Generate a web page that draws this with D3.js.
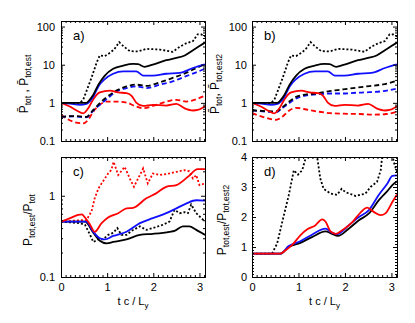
<!DOCTYPE html>
<html>
<head>
<meta charset="utf-8">
<script src="https://cdn.jsdelivr.net/npm/d3@7"></script>
<style>
  body { margin: 0; background: #fff; }
  text { font-family: "Liberation Sans", Arial, sans-serif; fill: #000; }
  .axis path, .axis line { stroke: #000; stroke-width: 1; }
</style>
</head>
<body>
<div id="chart"></div>
<script>
// time axis (t c / L_y) and tick values
var xTicks = [0, 1, 2, 3];
var logTicksAB = [0.1, 1, 10, 100];
var logTicksC = [0.1, 1];
var linTicksD = [0, 1, 2, 3, 4];

// panels a) and b): solid curves (same in both)
var totBlack = [[0,1],[0.3,1],[0.55,1.0],[0.62,1.2],[0.7,1.63],[0.81,3.0],[0.95,5.2],[1.13,7.8],[1.35,9.5],[1.56,10.5],[1.67,10.3],[1.81,8.8],[1.99,10.1],[2.28,13.1],[2.5,15.1],[2.68,17.5],[2.86,24],[3.0,30.8],[3.12,38]];
var totBlue = [[0,1],[0.2,0.95],[0.41,0.89],[0.55,0.94],[0.7,1.47],[0.81,2.7],[0.95,4.2],[1.13,5.8],[1.35,6.7],[1.63,6.7],[1.78,5.2],[1.99,5.2],[2.28,5.8],[2.57,6.1],[2.86,8.2],[3.12,10.2]];
var totRed = [[0,1],[0.19,0.8],[0.34,0.63],[0.48,0.53],[0.59,0.72],[0.7,1.25],[0.84,1.88],[1.06,2.1],[1.24,1.88],[1.42,1.8],[1.53,1.53],[1.63,1.02],[1.78,0.83],[1.99,0.89],[2.28,0.85],[2.5,0.94],[2.68,0.72],[2.86,0.63],[2.96,0.65],[3.12,0.82]];
var totBlackDot = [[0,1],[0.41,1],[0.48,1.2],[0.55,2.0],[0.66,4.5],[0.77,11.2],[0.84,17.5],[0.95,16.8],[1.06,20.5],[1.15,25],[1.26,39],[1.35,30.8],[1.49,22.7],[1.67,22.3],[1.85,26],[2.14,25],[2.42,21.8],[2.57,29.5],[2.71,36.3],[2.86,41.7],[2.96,62.7],[3.04,62],[3.12,55]];

// panel a): estimate (dashed)
var estBlackA = [[0,0.43],[0.27,0.45],[0.55,0.43],[0.7,0.65],[0.84,0.98],[0.99,1.41],[1.2,2.1],[1.42,2.7],[1.63,3.0],[1.85,2.8],[2.14,3.45],[2.42,4.5],[2.71,6.1],[2.93,8.2],[3.12,10.3]];
var estBlueA = [[0,0.43],[0.27,0.44],[0.55,0.42],[0.7,0.63],[0.84,0.89],[0.99,1.25],[1.2,2.0],[1.42,2.44],[1.63,2.7],[1.85,2.44],[2.14,3.0],[2.42,3.66],[2.71,5.0],[2.93,6.3],[3.12,7.9]];
var estRedA = [[0,0.48],[0.27,0.32],[0.48,0.29],[0.59,0.36],[0.7,0.59],[0.84,0.89],[0.99,1.08],[1.2,1.08],[1.42,1.02],[1.6,0.83],[1.78,0.72],[1.99,0.83],[2.28,1.08],[2.5,1.2],[2.71,1.08],[2.89,1.2],[3.12,1.55]];

// panel b): estimate 2 (dashed)
var estBlackB = [[0,0.64],[0.52,0.6],[0.66,0.78],[0.81,1.1],[0.95,1.44],[1.17,1.66],[1.38,1.76],[1.67,2.03],[1.96,2.25],[2.24,2.5],[2.53,2.76],[2.82,3.05],[3.12,3.8]];
var estBlueB = [[0,0.64],[0.52,0.57],[0.66,0.74],[0.81,1.0],[0.95,1.3],[1.17,1.56],[1.38,1.66],[1.67,1.76],[1.96,1.76],[2.24,1.84],[2.53,1.9],[2.82,2.03],[3.12,2.36]];
var estRedB = [[0,0.54],[0.23,0.43],[0.52,0.36],[0.66,0.44],[0.81,0.64],[0.95,0.74],[1.17,0.67],[1.38,0.6],[1.67,0.54],[1.96,0.52],[2.32,0.51],[2.6,0.49],[2.89,0.51],[3.12,0.58]];

// panel c): P_tot,est / P_tot
var ratioRedC = [[0,0.48],[0.2,0.53],[0.37,0.58],[0.45,0.59],[0.52,0.54],[0.63,0.44],[0.73,0.36],[0.88,0.46],[1.02,0.54],[1.24,0.61],[1.42,0.7],[1.56,0.71],[1.85,0.93],[2.06,1.07],[2.28,1.29],[2.5,1.35],[2.75,1.71],[2.96,2.13],[3.12,2.13]];
var ratioRedDotC = [[0,0.48],[0.41,0.5],[0.55,0.5],[0.66,0.64],[0.73,0.93],[0.81,1.23],[0.88,1.42],[0.95,1.63],[1.02,1.88],[1.09,2.07],[1.14,2.62],[1.24,1.8],[1.38,2.27],[1.49,1.63],[1.58,1.29],[1.67,1.63],[1.78,2.17],[1.88,1.42],[1.99,1.88],[2.14,1.8],[2.35,1.88],[2.5,1.97],[2.68,2.07],[2.78,2.0],[2.86,1.63],[2.93,1.8],[3.0,1.35],[3.12,1.42]];
var ratioBlueC = [[0,0.48],[0.55,0.48],[0.7,0.36],[0.84,0.3],[0.95,0.29],[1.13,0.32],[1.42,0.36],[1.71,0.46],[1.99,0.53],[2.28,0.61],[2.5,0.7],[2.71,0.8],[2.93,0.88],[3.12,0.87]];
var ratioBlackC = [[0,0.48],[0.52,0.48],[0.7,0.35],[0.84,0.28],[0.99,0.26],[1.13,0.27],[1.42,0.29],[1.71,0.33],[1.99,0.34],[2.35,0.36],[2.46,0.37],[2.64,0.42],[2.78,0.42],[2.93,0.38],[3.12,0.33]];
var ratioBlackDotC = [[0,0.48],[0.41,0.46],[0.52,0.44],[0.63,0.33],[0.7,0.27],[0.81,0.29],[0.91,0.29],[1.02,0.33],[1.13,0.35],[1.22,0.4],[1.31,0.33],[1.42,0.33],[1.53,0.37],[1.71,0.42],[1.85,0.38],[1.99,0.4],[2.21,0.44],[2.35,0.48],[2.46,0.67],[2.57,0.61],[2.68,0.63],[2.75,0.61],[2.82,0.78],[2.93,0.61],[3.12,0.48]];

// panel d): P_tot,est / P_tot,est2
var ratioRedD = [[0,0.78],[0.61,0.78],[0.72,0.89],[0.86,1.06],[1.04,1.39],[1.19,1.59],[1.36,1.72],[1.51,1.92],[1.58,1.85],[1.69,1.52],[1.8,1.44],[1.94,1.56],[2.16,1.83],[2.33,2.14],[2.48,2.31],[2.62,2.17],[2.77,2.06],[2.87,2.12],[3.02,2.5],[3.12,2.75]];
var ratioBlueD = [[0,0.78],[0.61,0.78],[0.79,1.03],[1.04,1.19],[1.29,1.41],[1.58,1.61],[1.72,1.48],[1.83,1.43],[2.08,1.72],[2.3,2.0],[2.51,2.22],[2.73,2.74],[2.91,3.11],[3.02,3.37],[3.12,3.39]];
var ratioBlackD = [[0,0.78],[0.61,0.78],[0.79,1.0],[1.04,1.14],[1.29,1.33],[1.58,1.52],[1.72,1.44],[1.85,1.37],[2.08,1.61],[2.3,1.89],[2.51,2.11],[2.73,2.56],[2.91,2.86],[3.02,3.06],[3.12,3.19]];
var ratioBlackDotD = [[0,0.78],[0.43,0.78],[0.54,1.11],[0.65,1.83],[0.79,2.72],[0.9,3.56],[0.99,3.41],[1.08,3.56],[1.15,3.94],[1.22,4.4],[1.3,4.6],[1.36,4.3],[1.4,4.02],[1.47,3.28],[1.54,2.94],[1.69,2.78],[1.83,2.74],[1.93,2.94],[2.01,2.83],[2.23,2.7],[2.44,2.78],[2.55,3.0],[2.69,3.17],[2.77,3.56],[2.8,4.0],[2.9,4.5],[3.0,4.3],[3.05,3.83],[3.12,3.5]];

var svgWidth = 415, svgHeight = 323;
var svg = d3.select("#chart").append("svg")
  .attr("width", svgWidth)
  .attr("height", svgHeight);

var RED = "#ff0000", BLUE = "#1010ff", BLACK = "#000";
var DASH = "5,3", DOT = "2,2";

// panel boxes
var panels = [
  {id: "a", x: 61, y: 21, w: 144, h: 120, log: true, dom: [0.1, 140], ticks: logTicksAB, xlab: false,
   series: [[totBlackDot, BLACK, DOT], [estRedA, RED, DASH], [estBlueA, BLUE, DASH], [estBlackA, BLACK, DASH],
            [totRed, RED, null], [totBlue, BLUE, null], [totBlack, BLACK, null]]},
  {id: "b", x: 252, y: 21, w: 145, h: 120, log: true, dom: [0.1, 140], ticks: logTicksAB, xlab: false,
   series: [[totBlackDot, BLACK, DOT], [estRedB, RED, DASH], [estBlueB, BLUE, DASH], [estBlackB, BLACK, DASH],
            [totRed, RED, null], [totBlue, BLUE, null], [totBlack, BLACK, null]]},
  {id: "c", x: 61, y: 157, w: 144, h: 120, log: true, dom: [0.1, 3], ticks: logTicksC, xlab: true,
   series: [[ratioRedDotC, RED, DOT], [ratioBlackDotC, BLACK, DOT], [ratioBlackC, BLACK, null],
            [ratioBlueC, BLUE, null], [ratioRedC, RED, null]]},
  {id: "d", x: 252, y: 157, w: 145, h: 120, log: false, dom: [0, 4], ticks: linTicksD, xlab: true,
   series: [[ratioBlackDotD, BLACK, DOT], [ratioBlackD, BLACK, null], [ratioBlueD, BLUE, null], [ratioRedD, RED, null]]}
];

function minorLog(dom) {
  var out = [];
  for (var e = -2; e <= 3; e++) {
    for (var k = 2; k <= 9; k++) {
      var v = k * Math.pow(10, e);
      if (v > dom[0] && v < dom[1]) out.push(v);
    }
  }
  return out;
}

panels.forEach(function(p) {
  var g = svg.append("g").attr("transform", `translate(${p.x}, ${p.y})`);

  var x = d3.scaleLinear().domain([0, 3.12]).range([0, p.w]);
  var y = (p.log ? d3.scaleLog() : d3.scaleLinear()).domain(p.dom).range([p.h, 0]);

  var xMinor = d3.range(0, 3.12, 0.1).filter(function(v) { return Math.abs(v - Math.round(v)) > 0.01; });
  var yMinor = p.log ? minorLog(p.dom) : d3.range(0, 4, 0.1).filter(function(v) { return Math.abs(v - Math.round(v)) > 0.01; });

  // clip for the curves
  g.append("clipPath").attr("id", "clip-" + p.id)
    .append("rect").attr("width", p.w).attr("height", p.h);

  var line = d3.line()
    .x(function(d) { return x(d[0]); })
    .y(function(d) { return y(d[1]); });

  var curves = g.append("g").attr("clip-path", `url(#clip-${p.id})`);
  p.series.forEach(function(s) {
    line.curve(s[2] === DOT ? d3.curveLinear : d3.curveMonotoneX);
    curves.append("path")
      .attr("d", line(s[0]))
      .attr("fill", "none")
      .attr("stroke", s[1])
      .attr("stroke-width", 1.8)
      .attr("stroke-dasharray", s[2]);
  });

  // axes, IDL style ticks pointing inward on all sides
  var fmtY = function(d) { return d < 1 && p.log ? "0.1" : d3.format("d")(d); };

  g.append("g").attr("class", "axis")
    .attr("transform", `translate(0, ${p.h})`)
    .call(d3.axisBottom(x).tickValues(xTicks).tickSize(-4).tickSizeOuter(0).tickPadding(6)
      .tickFormat(p.xlab ? d3.format("d") : ""));
  g.append("g").attr("class", "axis")
    .attr("transform", `translate(0, ${p.h})`)
    .call(d3.axisBottom(x).tickValues(xMinor).tickSize(-2).tickSizeOuter(0).tickFormat(""));
  g.append("g").attr("class", "axis")
    .call(d3.axisTop(x).tickValues(xTicks).tickSize(-4).tickSizeOuter(0).tickFormat(""));
  g.append("g").attr("class", "axis")
    .call(d3.axisTop(x).tickValues(xMinor).tickSize(-2).tickSizeOuter(0).tickFormat(""));

  g.append("g").attr("class", "axis")
    .call(d3.axisLeft(y).tickValues(p.ticks).tickSize(-4).tickSizeOuter(0).tickPadding(p.id === "a" || p.id === "c" ? 6 : 5)
      .tickFormat(fmtY));
  g.append("g").attr("class", "axis")
    .call(d3.axisLeft(y).tickValues(yMinor).tickSize(-2).tickSizeOuter(0).tickFormat(""));
  g.append("g").attr("class", "axis")
    .attr("transform", `translate(${p.w}, 0)`)
    .call(d3.axisRight(y).tickValues(p.ticks).tickSize(-4).tickSizeOuter(0).tickFormat(""));
  g.append("g").attr("class", "axis")
    .attr("transform", `translate(${p.w}, 0)`)
    .call(d3.axisRight(y).tickValues(yMinor).tickSize(-2).tickSizeOuter(0).tickFormat(""));

  g.selectAll(".axis text").style("font-size", "11px").style("font-family", "Liberation Sans, Arial, sans-serif");

  // panel label
  g.append("text")
    .attr("x", 12)
    .attr("y", 19)
    .style("font-size", "13px")
    .text(p.id + ")");

  // x title
  if (p.xlab) {
    var xt = g.append("text")
      .attr("x", p.w / 2)
      .attr("y", p.h + 28)
      .attr("text-anchor", "middle")
      .style("font-size", "11px");
    xt.append("tspan").text("t c / L");
    xt.append("tspan").attr("dy", 3).style("font-size", "8px").text("y");
  }
});

// y titles (rotated), with subscripts
function yTitle(cx, cy, parts) {
  var t = svg.append("text")
    .attr("transform", `translate(${cx}, ${cy}) rotate(-90)`)
    .attr("text-anchor", "middle")
    .style("font-size", "12px");
  parts.forEach(function(pt) {
    t.append("tspan")
      .attr("dy", pt[1] ? 3 : -3)
      .style("font-size", pt[1] ? "8.5px" : "12px")
      .text(pt[0]);
  });
  // reset the first baseline shift
  t.select("tspan").attr("dy", 0);
}

yTitle(28, 84, [["P\u0304", false], ["tot", true], [" , P\u0304", false], ["tot,est", true]]);
yTitle(219, 84, [["P\u0304", false], ["tot", true], [", P\u0304", false], ["tot,est2", true]]);
yTitle(32, 220, [["P", false], ["tot,est", true], ["/P", false], ["tot", true]]);
yTitle(226, 220, [["P", false], ["tot,est", true], ["/P", false], ["tot,est2", true]]);
</script>
</body>
</html>
